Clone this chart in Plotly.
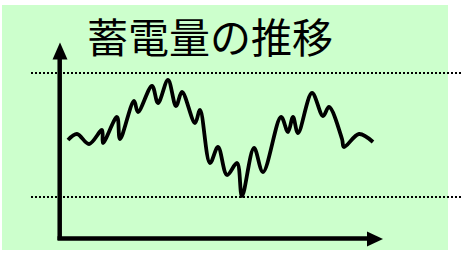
import plotly.graph_objects as go

# ---- data (time in arbitrary units, storage level in %) ----
W, H = 462, 253
title_text = "蓄電量の推移"
upper_limit = 80.0
lower_limit = 20.0

# wave: pixel-derived estimates converted to units below
px_x = [68, 77, 89, 102, 103, 117, 120, 134, 138, 152, 158, 168, 176, 182, 195, 200,
        210, 218, 227, 237, 242, 254, 263, 281, 288, 293, 298, 312, 323, 329, 342, 344, 359, 373]
px_y = [140, 134, 144, 130, 143, 117, 139, 101, 112, 86, 103, 80, 106, 92, 123, 110,
        163, 147, 175, 163, 196, 148, 172, 117, 132, 117, 133, 93, 116, 107, 139, 147, 134, 142]

# time axis: origin at x=60px, 10 px per unit; level: 20% at 197px, 80% at 73px
time = [round((p - 60) / 10, 2) for p in px_x]
level = [round(20 + (197 - p) * 60 / 124, 2) for p in px_y]

# axis ranges so the plot area equals the full page
x_range = [(0 - 60) / 10, (W - 60) / 10]
y_range = [20 + (197 - H) * 60 / 124, 20 + (197 - 0) * 60 / 124]


def px(x):
    return x / W


def py(y):
    return 1 - y / H


fig = go.Figure()
fig.add_trace(go.Scatter(x=time, y=level, mode="lines",
                         line=dict(color="black", width=3.8, shape="spline", smoothing=1.0),
                         hoverinfo="skip", showlegend=False))

shapes = []
# green background
shapes.append(dict(type="rect", xref="paper", yref="paper", x0=px(2), x1=px(448), y0=py(250), y1=py(5),
                   fillcolor="#CCFFCC", line=dict(width=0), layer="below"))
# limit lines
for lv in (upper_limit, lower_limit):
    shapes.append(dict(type="line", xref="paper", yref="y", x0=px(31), x1=1, y0=lv, y1=lv,
                       line=dict(color="black", width=2, dash="2px,2px")))
# axes arrows
shapes.append(dict(type="line", xref="paper", yref="paper", x0=px(59.7), x1=px(59.7), y0=py(240), y1=py(56),
                   line=dict(color="black", width=4.5)))
shapes.append(dict(type="line", xref="paper", yref="paper", x0=px(57.5), x1=px(370), y0=py(238.5), y1=py(238.5),
                   line=dict(color="black", width=4.5)))
shapes.append(dict(type="path", xref="paper", yref="paper",
                   path=f"M {px(60)} {py(42.5)} L {px(52.5)} {py(59.5)} L {px(67.5)} {py(59.5)} Z",
                   fillcolor="black", line=dict(width=0)))
shapes.append(dict(type="path", xref="paper", yref="paper",
                   path=f"M {px(383)} {py(239)} L {px(367)} {py(231.5)} L {px(367)} {py(246.5)} Z",
                   fillcolor="black", line=dict(width=0)))

fig.update_layout(
    width=W, height=H,
    margin=dict(l=0, r=0, t=0, b=0),
    paper_bgcolor="white", plot_bgcolor="rgba(0,0,0,0)",
    xaxis=dict(range=x_range, visible=False, fixedrange=True),
    yaxis=dict(range=y_range, visible=False, fixedrange=True),
    shapes=shapes,
    annotations=[dict(text=title_text, xref="paper", yref="paper", x=px(210), y=py(35),
                      xanchor="center", yanchor="middle", showarrow=False,
                      font=dict(family="Noto Sans CJK JP", size=41, color="black"))],
)

fig.write_html("out.html", config={"displayModeBar": False},
               post_script="document.body.style.margin='0';document.body.style.overflow='hidden';")
